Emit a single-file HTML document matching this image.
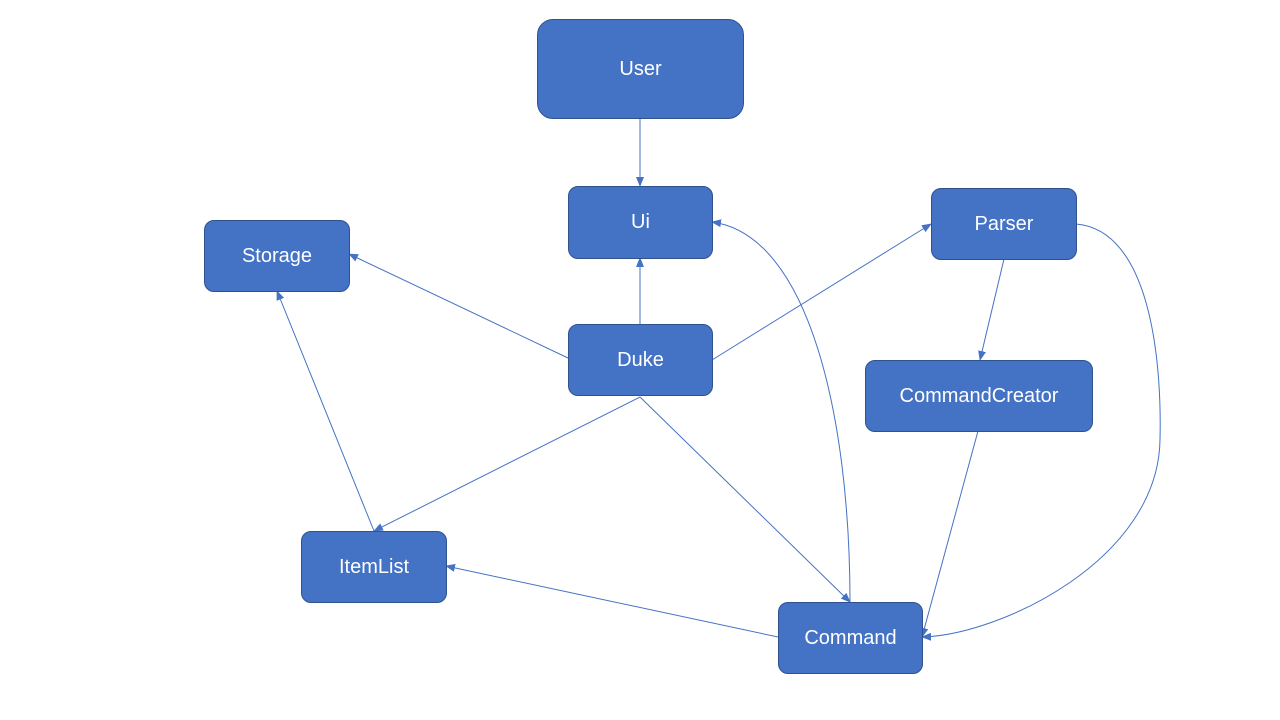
<!DOCTYPE html>
<html><head><meta charset="utf-8"><style>
html,body{margin:0;padding:0;background:#fff;width:1280px;height:720px;overflow:hidden}
.b{position:absolute;background:#4472C4;border:1px solid #2F528F;box-sizing:border-box;border-radius:10px;color:#fff;font-family:"Liberation Sans",sans-serif;font-size:20px;display:flex;align-items:center;justify-content:center}
svg{position:absolute;left:0;top:0}
</style></head><body>
<svg width="1280" height="720">
<defs><marker id="a" markerWidth="10" markerHeight="8" refX="9" refY="4" orient="auto" markerUnits="userSpaceOnUse"><path d="M0,0 L10,4 L0,8 z" fill="#4472C4"/></marker></defs>
<g stroke="#4472C4" stroke-width="1" fill="none" marker-end="url(#a)">
<path d="M640,118 L640,186"/>
<path d="M640,324 L640,258"/>
<path d="M568,358 L349,254"/>
<path d="M712,360 L931,224"/>
<path d="M1004,259 L980,360"/>
<path d="M640,397 L374,531"/>
<path d="M640,397 L850,602"/>
<path d="M850,602 C850,420 810,235 712,222"/>
<path d="M374,531 L277,291"/>
<path d="M778,637 L446,566"/>
<path d="M978,431 L922,637"/>
<path d="M1076,224 C1150,230 1162,360 1160,440 C1158,560 1000,635 922,637"/>
</g>
</svg>
<div class="b" style="left:537px;top:19px;width:207px;height:100px;border-radius:16px">User</div>
<div class="b" style="left:568px;top:186px;width:145px;height:73px">Ui</div>
<div class="b" style="left:204px;top:220px;width:146px;height:72px">Storage</div>
<div class="b" style="left:931px;top:188px;width:146px;height:72px">Parser</div>
<div class="b" style="left:568px;top:324px;width:145px;height:72px">Duke</div>
<div class="b" style="left:865px;top:360px;width:228px;height:72px">CommandCreator</div>
<div class="b" style="left:301px;top:531px;width:146px;height:72px">ItemList</div>
<div class="b" style="left:778px;top:602px;width:145px;height:72px">Command</div>
</body></html>
